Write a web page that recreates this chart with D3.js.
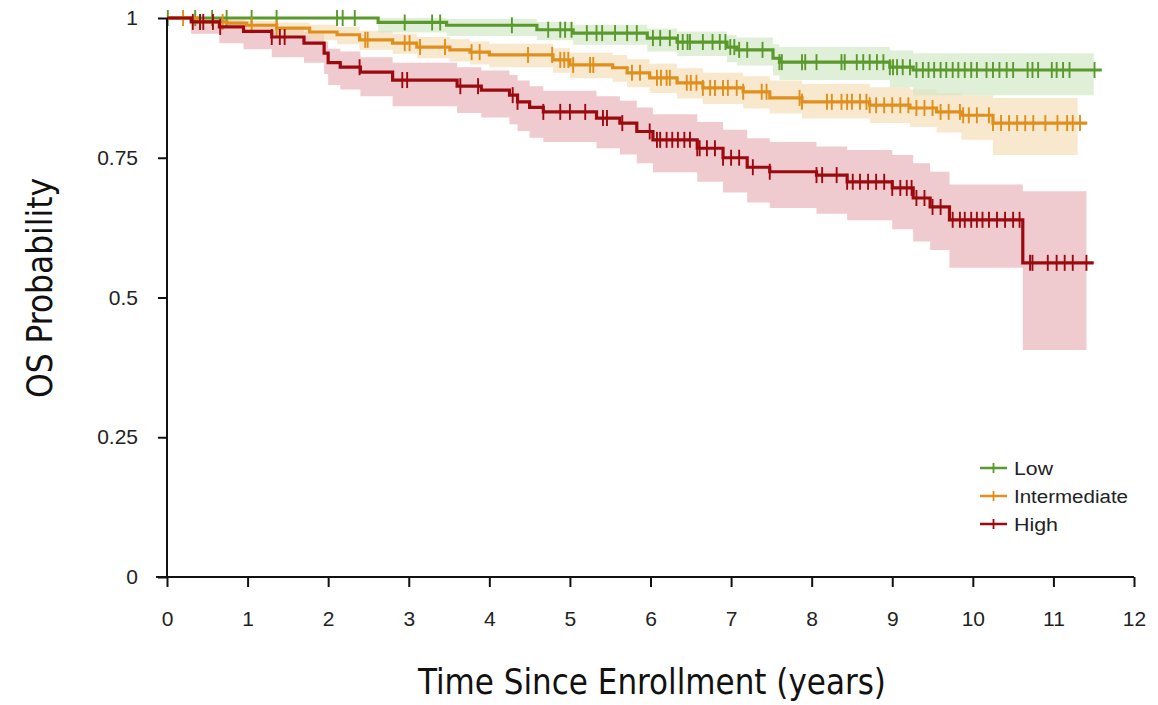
<!DOCTYPE html>
<html><head><meta charset="utf-8">
<script src="https://cdn.jsdelivr.net/npm/d3@7/dist/d3.min.js"></script>
<style>
html,body{margin:0;padding:0;background:#fff;}
svg{display:block;}
</style></head>
<body>
<svg id="chart" width="1158" height="705"></svg>
<script>
// ---------- DATA ----------
const xTicks = [0,1,2,3,4,5,6,7,8,9,10,11,12];
const yTicks = [0,0.25,0.5,0.75,1];
const yTickLabels = ["0","0.25","0.5","0.75","1"];
const seriesNames = ["Low","Intermediate","High"];

// Low risk group
const lowTimes = [0, 2.62, 3.47, 4.59, 5.04, 5.96, 6.33, 6.95, 7.07, 7.52, 7.6, 8.97, 9.26];
const lowSurv  = [1, 0.992, 0.987, 0.979, 0.973, 0.964, 0.957, 0.948, 0.943, 0.928, 0.921, 0.912, 0.907];
const lowLower = [1, 0.974, 0.968, 0.960, 0.952, 0.940, 0.932, 0.921, 0.915, 0.897, 0.889, 0.876, 0.862];
const lowUpper = [1, 1.0, 0.998, 0.993, 0.988, 0.981, 0.976, 0.969, 0.965, 0.953, 0.948, 0.942, 0.937];
const lowEnd = 11.6;
const lowBandEnd = 11.5;
const lowCensor = [0.01,0.35,0.56,0.74,1.05,1.36,2.11,2.18,2.33,2.95,3.29,3.39,4.28,4.73,4.88,4.94,5.02,5.21,5.33,5.4,5.56,5.71,5.83,6.03,6.12,6.24,6.34,6.4,6.46,6.49,6.65,6.77,6.86,6.93,6.99,7.04,7.1,7.2,7.39,7.6,7.63,7.88,7.92,8.06,8.37,8.41,8.56,8.64,8.72,8.81,8.89,8.97,9.01,9.06,9.13,9.22,9.3,9.38,9.45,9.52,9.6,9.67,9.75,9.82,9.9,9.98,10.05,10.17,10.25,10.33,10.42,10.5,10.68,10.74,10.81,10.98,11.04,11.12,11.2,11.51];

// Intermediate risk group
const intTimes = [0, 0.37, 0.74, 0.99, 1.36, 1.77, 2.11, 2.39, 2.8, 3.1, 3.51, 3.76, 4.0, 4.79, 5.0, 5.53, 5.71, 5.99, 6.33, 6.65, 7.15, 7.48, 7.88, 8.72, 9.22, 9.55, 9.86, 10.25];
const intSurv  = [1, 0.993, 0.991, 0.987, 0.982, 0.975, 0.970, 0.961, 0.955, 0.948, 0.943, 0.939, 0.934, 0.925, 0.916, 0.911, 0.902, 0.893, 0.884, 0.875, 0.868, 0.857, 0.850, 0.844, 0.839, 0.832, 0.826, 0.812];
const intLower = [1, 0.985, 0.980, 0.975, 0.968, 0.960, 0.953, 0.943, 0.936, 0.928, 0.922, 0.917, 0.912, 0.902, 0.892, 0.886, 0.876, 0.866, 0.856, 0.846, 0.838, 0.829, 0.820, 0.812, 0.805, 0.795, 0.782, 0.755];
const intUpper = [1, 0.998, 0.997, 0.995, 0.992, 0.988, 0.984, 0.977, 0.972, 0.966, 0.962, 0.958, 0.954, 0.946, 0.938, 0.934, 0.926, 0.918, 0.910, 0.902, 0.896, 0.888, 0.882, 0.876, 0.872, 0.866, 0.862, 0.857];
const intEnd = 11.42;
const intBandEnd = 11.3;
const intCensor = [0.2,0.69,1.05,1.36,2.46,2.49,2.95,3.01,3.14,3.45,3.78,3.88,4.48,4.78,4.88,4.93,4.98,5.04,5.25,5.29,5.77,5.87,6.08,6.13,6.2,6.24,6.45,6.5,6.57,6.65,6.74,6.8,6.9,6.96,7.07,7.15,7.38,7.44,7.85,7.88,8.19,8.25,8.37,8.44,8.5,8.6,8.68,8.72,8.8,8.9,9.0,9.1,9.2,9.3,9.4,9.5,9.6,9.7,9.84,9.88,9.95,10.05,10.2,10.25,10.35,10.45,10.55,10.65,10.75,10.9,11.05,11.17,11.24,11.33];

// High risk group
const highTimes = [0, 0.3, 0.65, 0.95, 1.3, 1.7, 1.95, 2.0, 2.15, 2.4, 2.8, 3.6, 3.9, 4.25, 4.35, 4.5, 4.67, 5.33, 5.62, 5.83, 6.03, 6.58, 6.9, 7.2, 7.48, 8.06, 8.44, 9.0, 9.26, 9.47, 9.71, 10.62];
const highSurv  = [1, 0.993, 0.984, 0.976, 0.966, 0.955, 0.937, 0.920, 0.912, 0.903, 0.889, 0.878, 0.871, 0.862, 0.850, 0.840, 0.832, 0.821, 0.812, 0.797, 0.782, 0.767, 0.750, 0.733, 0.725, 0.719, 0.707, 0.696, 0.678, 0.662, 0.639, 0.562];
const highLower = [1, 0.972, 0.955, 0.944, 0.930, 0.920, 0.900, 0.880, 0.872, 0.860, 0.842, 0.830, 0.822, 0.810, 0.798, 0.786, 0.778, 0.767, 0.756, 0.740, 0.724, 0.707, 0.688, 0.670, 0.660, 0.650, 0.638, 0.622, 0.600, 0.585, 0.553, 0.406];
const highUpper = [1, 1.0, 0.996, 0.990, 0.984, 0.975, 0.958, 0.945, 0.940, 0.930, 0.920, 0.912, 0.906, 0.898, 0.888, 0.878, 0.870, 0.860, 0.852, 0.840, 0.828, 0.814, 0.800, 0.785, 0.778, 0.770, 0.764, 0.755, 0.740, 0.725, 0.702, 0.690];
const highEnd = 11.5;
const highBandEnd = 11.41;
const highCensor = [0.32,0.41,0.45,0.57,0.66,1.3,1.4,1.46,2.39,2.92,2.98,3.64,3.86,4.29,4.35,4.67,4.88,5.0,5.19,5.41,5.46,5.65,5.99,6.08,6.12,6.2,6.27,6.34,6.42,6.49,6.58,6.61,6.7,6.8,6.9,7.0,7.1,7.27,7.48,8.06,8.13,8.31,8.44,8.51,8.6,8.7,8.8,8.9,9.0,9.1,9.18,9.24,9.3,9.4,9.5,9.6,9.75,9.84,9.9,9.98,10.05,10.12,10.2,10.3,10.4,10.5,10.58,10.71,10.74,10.93,11.04,11.14,11.24,11.41];

// ---------- STYLE ----------
const colors = {Low:"#5a9a2c", Intermediate:"#e08f1c", High:"#9c0a10"};
const bandColors = {Low:"#cfe6c2", Intermediate:"#f5dcb2", High:"#e6adb3"};

const series = [
  {name:"High", t:highTimes, s:highSurv, lo:highLower, hi:highUpper, end:highEnd, bandEnd:highBandEnd, cens:highCensor},
  {name:"Intermediate", t:intTimes, s:intSurv, lo:intLower, hi:intUpper, end:intEnd, bandEnd:intBandEnd, cens:intCensor},
  {name:"Low", t:lowTimes, s:lowSurv, lo:lowLower, hi:lowUpper, end:lowEnd, bandEnd:lowBandEnd, cens:lowCensor}
];

const svg = d3.select("#chart");
const x = d3.scaleLinear().domain([0,12]).range([167,1134]);
const y = d3.scaleLinear().domain([0,1]).range([577,18]);

const tickFont = "'Liberation Sans', Arial, sans-serif";
const titleFont = "'Liberation Sans Narrow','DejaVu Sans Condensed','Roboto Condensed', 'Liberation Sans', sans-serif";

// bands
const area = d3.area().curve(d3.curveStepAfter)
  .x(d=>x(d.t)).y0(d=>y(d.lo)).y1(d=>y(d.hi));
series.forEach(sr=>{
  const pts = sr.t.map((t,i)=>({t, lo:sr.lo[i], hi:sr.hi[i]}));
  const last = pts[pts.length-1];
  pts.push({t:sr.bandEnd, lo:last.lo, hi:last.hi});
  svg.append("path").attr("d", area(pts))
    .attr("fill", bandColors[sr.name]).attr("fill-opacity",0.65);
});

// lines
const line = d3.line().curve(d3.curveStepAfter).x(d=>x(d.t)).y(d=>y(d.s));
function survAt(sr, t){
  const i = d3.bisectRight(sr.t, t) - 1;
  return sr.s[Math.max(0,i)];
}
[series[2], series[1], series[0]].forEach(sr=>{
  const pts = sr.t.map((t,i)=>({t, s:sr.s[i]}));
  pts.push({t:sr.end, s:sr.s[sr.s.length-1]});
  svg.append("path").attr("d", line(pts))
    .attr("fill","none").attr("stroke", colors[sr.name]).attr("stroke-width",3.2);
  svg.append("g").selectAll("line").data(sr.cens).join("line")
    .attr("x1", d=>x(d)).attr("x2", d=>x(d))
    .attr("y1", d=>y(survAt(sr,d))-8).attr("y2", d=>y(survAt(sr,d))+8)
    .attr("stroke", colors[sr.name]).attr("stroke-width",1.9);
});

// axes
const yAxis = d3.axisLeft(y).tickValues(yTicks)
  .tickFormat((d,i)=>yTickLabels[i]).tickSize(9).tickPadding(20);
const gy = svg.append("g").attr("transform","translate(167,0)").call(yAxis);
gy.select(".domain").attr("d","M0,18V577").attr("stroke","#111").attr("stroke-width",2);
gy.selectAll(".tick line").attr("stroke","#111").attr("stroke-width",2);
gy.selectAll("text").attr("font-family",tickFont).attr("font-size",21).attr("fill","#222");

const xAxis = d3.axisBottom(x).tickValues(xTicks).tickSize(10).tickPadding(24);
const gx = svg.append("g").attr("transform","translate(0,577)").call(xAxis);
gx.select(".domain").attr("d","M156,0H1134").attr("stroke","#111").attr("stroke-width",2);
gx.selectAll(".tick line").attr("stroke","#111").attr("stroke-width",2);
gx.selectAll("text").attr("font-family",tickFont).attr("font-size",21).attr("fill","#222");

// titles
svg.append("text").attr("x",652).attr("y",694).attr("text-anchor","middle")
  .attr("font-family",titleFont).attr("font-size",36).attr("fill","#111")
  .attr("textLength",468).attr("lengthAdjust","spacingAndGlyphs")
  .text("Time Since Enrollment (years)");
svg.append("text").attr("transform","translate(52,288) rotate(-90)").attr("text-anchor","middle")
  .attr("font-family",titleFont).attr("font-size",36).attr("fill","#111")
  .attr("textLength",220).attr("lengthAdjust","spacingAndGlyphs")
  .text("OS Probability");

// legend
const legendWidths = [39, 114, 44];
const lg = svg.append("g");
seriesNames.forEach((n,i)=>{
  const yy = 468 + i*28;
  lg.append("line").attr("x1",980).attr("x2",1007).attr("y1",yy).attr("y2",yy)
    .attr("stroke",colors[n]).attr("stroke-width",2.5);
  lg.append("line").attr("x1",993.5).attr("x2",993.5).attr("y1",yy-5).attr("y2",yy+5)
    .attr("stroke",colors[n]).attr("stroke-width",1.8);
  lg.append("text").attr("x",1014).attr("y",yy+7).attr("font-family",tickFont)
    .attr("font-size",18).attr("fill","#222")
    .attr("textLength",legendWidths[i]).attr("lengthAdjust","spacingAndGlyphs").text(n);
});
</script>
</body></html>
